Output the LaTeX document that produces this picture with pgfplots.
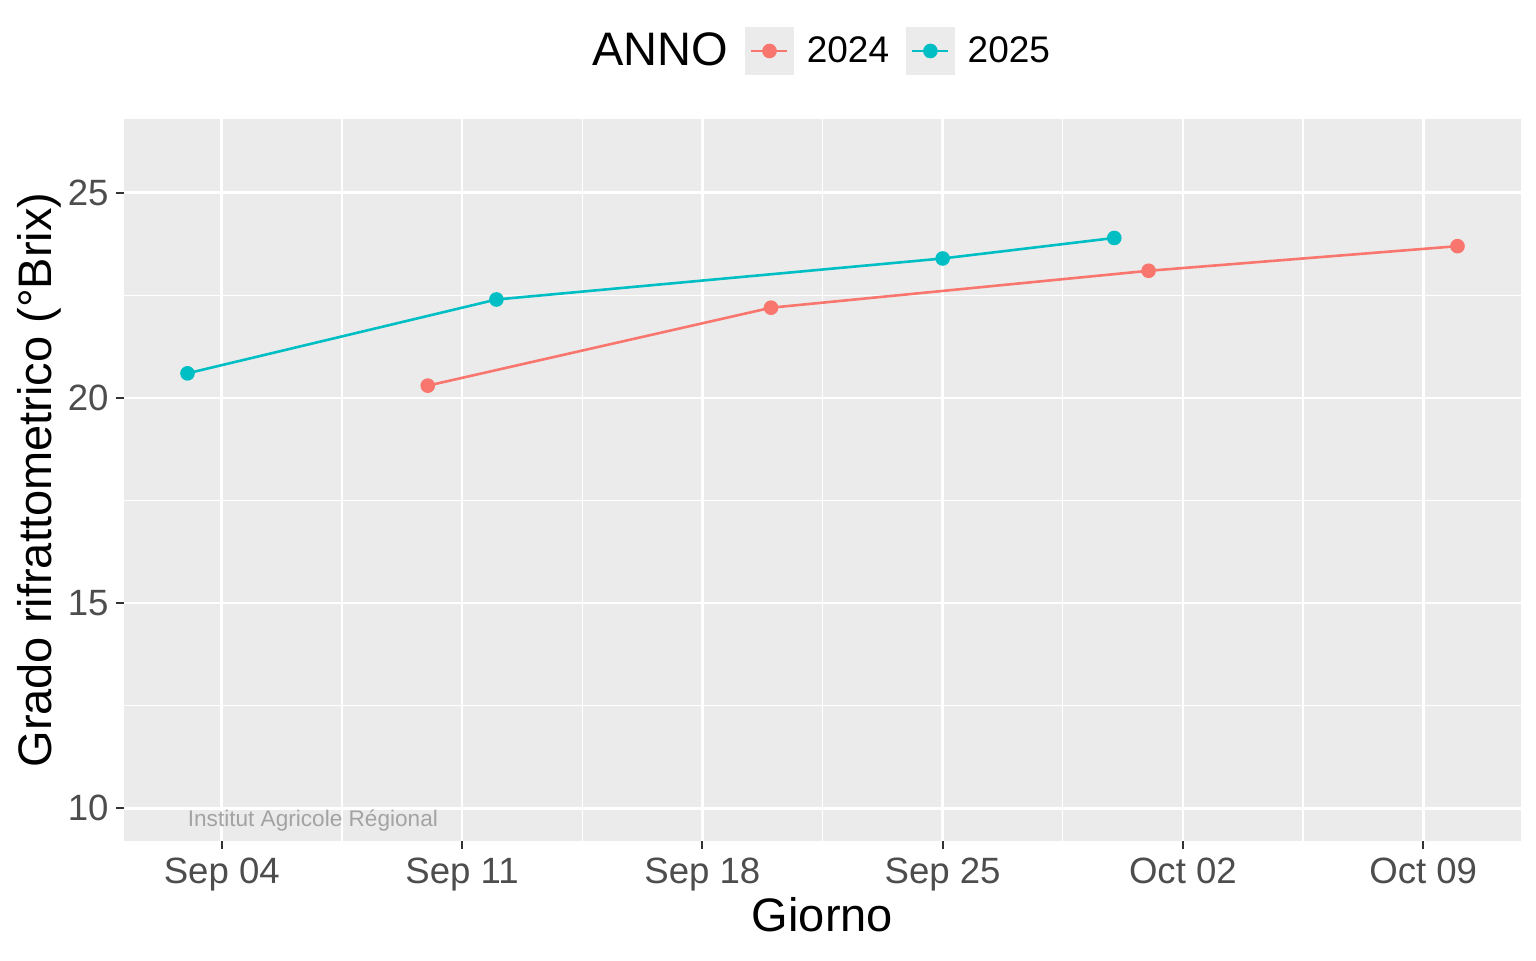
\documentclass[border=0pt]{standalone}
\usepackage{pgfplots}
\pgfplotsset{compat=1.18}
\usepackage{fontspec}
\setmainfont{Liberation Sans}
\definecolor{panelbg}{HTML}{EBEBEB}
\definecolor{c24}{HTML}{F8766D}
\definecolor{c25}{HTML}{00BFC4}
\definecolor{tickc}{HTML}{333333}
\definecolor{ticklab}{HTML}{4D4D4D}
\definecolor{wm}{HTML}{A3A3A3}
\begin{document}
\begin{tikzpicture}
\begin{axis}[
  at={(0pt,0pt)}, anchor=south west,
  scale only axis, width=698.5pt, height=361pt,
  xmin=1.15, xmax=41.85, ymin=9.2, ymax=26.8,
  axis background/.style={fill=panelbg},
  axis line style={draw=none},
  xtick={4,11,18,25,32,39},
  xticklabels={Sep 04,Sep 11,Sep 18,Sep 25,Oct 02,Oct 09},
  minor xtick={7.5,14.5,21.5,28.5,35.5},
  ytick={10,15,20,25},
  yticklabels={10,15,20,25},
  minor ytick={12.5,17.5,22.5},
  grid=both,
  major grid style={white, line width=1.4pt},
  minor grid style={white, line width=0.7pt},
  tick align=outside,
  xtick pos=bottom, ytick pos=left,
  major tick length=3.8pt, minor tick length=0pt,
  major tick style={tickc, line width=1.1pt},
  xticklabel style={font=\fontsize{18.3}{22}\selectfont, text=ticklab, anchor=base, inner sep=0pt, yshift=-17.2pt},
  yticklabel style={font=\fontsize{18.3}{22}\selectfont, text=ticklab, anchor=east, inner sep=0pt, xshift=-3.7pt},
  xlabel={Giorno},
  xlabel style={font=\fontsize{23.5}{28}\selectfont, at={(axis description cs:0.5,-0.1260)}, anchor=base, inner sep=0pt},
  ylabel={Grado rifrattometrico (°Brix)},
  ylabel style={font=\fontsize{23.5}{28}\selectfont, at={(axis description cs:-0.05154,0.5)}, anchor=base, inner sep=0pt},
  legend columns=-1,
  legend style={at={(axis description cs:0.3257,1.0942)}, anchor=west, draw=none, fill=none, inner sep=0pt,
    font=\fontsize{18.5}{22}\selectfont, nodes={inner sep=0pt, anchor=west},
    /tikz/every odd column/.append style={column sep=6.5pt},
    /tikz/every even column/.append style={column sep=8.5pt}},
  legend image code/.code={
    \fill[panelbg] (0pt,-11.5pt) rectangle (23pt,11.5pt);
    \draw[mark repeat=2,mark phase=2,#1] plot coordinates {(2.5pt,0pt) (11.5pt,0pt) (20.5pt,0pt)};
  },
]
\addlegendimage{empty legend}
\addlegendentry{\fontsize{23.5}{28}\selectfont ANNO}
\addplot[c24, line width=1.3pt, mark=*, mark size=3pt, mark options={solid}] coordinates {(10,20.3) (20,22.2) (31,23.1) (40,23.7)};
\addlegendentry{2024}
\addplot[c25, line width=1.3pt, mark=*, mark size=3pt, mark options={solid}] coordinates {(3,20.6) (12,22.4) (25,23.4) (30,23.9)};
\addlegendentry{2025}
\node[anchor=base west, inner sep=0pt, text=wm, font=\fontsize{11.3}{13}\selectfont] at (axis cs:3,9.56) {Institut Agricole Régional};
\end{axis}
\pgfresetboundingbox
\useasboundingbox (-62pt,-59.5pt) rectangle (706pt,420.5pt);
\end{tikzpicture}
\end{document}
